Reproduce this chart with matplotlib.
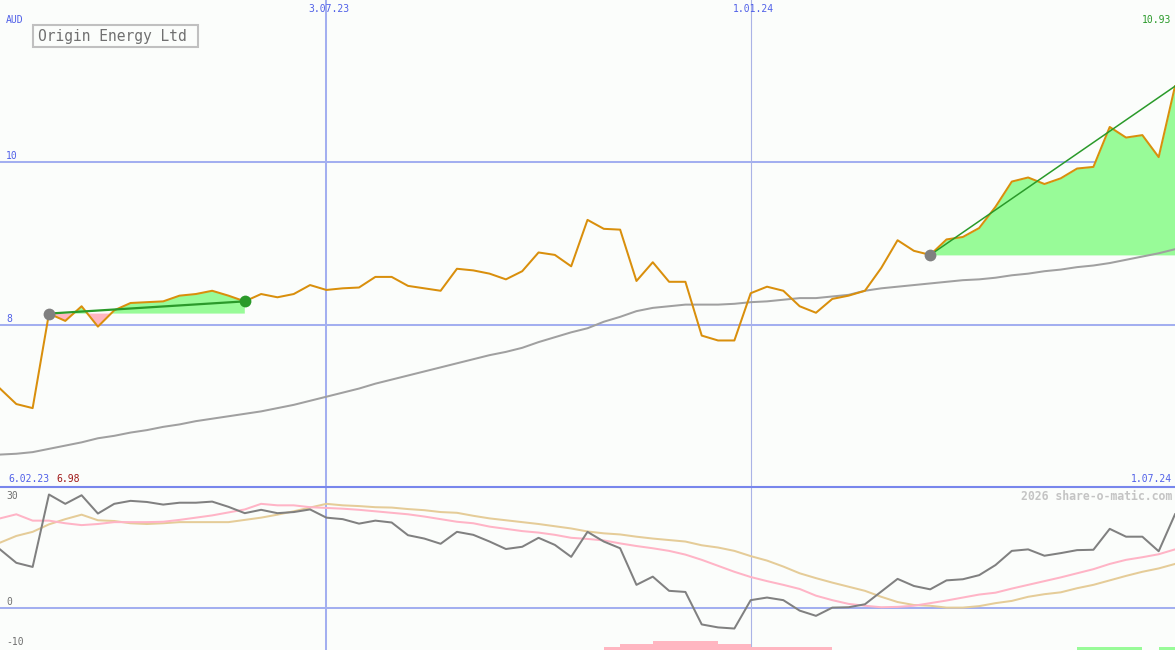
import matplotlib
matplotlib.use("Agg")
import matplotlib.pyplot as plt
import matplotlib.transforms as mtransforms
from matplotlib.patches import Rectangle
from matplotlib.lines import Line2D
import pandas as pd
import numpy as np

# ---------------- data ----------------
title = "Origin Energy Ltd"
currency = "AUD"
dates = pd.date_range("2023-02-13", "2024-07-01", freq="7D")

price = [7.22, 7.03, 6.98, 8.14, 8.05, 8.23, 7.98, 8.18, 8.27, 8.28,
         8.29, 8.36, 8.38, 8.42, 8.36, 8.29, 8.38, 8.34, 8.38, 8.49,
         8.43, 8.45, 8.46, 8.59, 8.59, 8.48, 8.45, 8.42, 8.69, 8.67,
         8.63, 8.56, 8.66, 8.89, 8.86, 8.72, 9.29, 9.18, 9.17, 8.54,
         8.77, 8.53, 8.53, 7.87, 7.81, 7.81, 8.39, 8.47, 8.42, 8.23,
         8.15, 8.32, 8.36, 8.42, 8.70, 9.04, 8.91, 8.86, 9.05, 9.08,
         9.19, 9.45, 9.76, 9.81, 9.73, 9.80, 9.92, 9.94, 10.43, 10.30,
         10.33, 10.06, 10.93]

moving_avg = [6.41, 6.42, 6.44, 6.48, 6.52, 6.56, 6.61, 6.64, 6.68, 6.71,
              6.75, 6.78, 6.82, 6.85, 6.88, 6.91, 6.94, 6.98, 7.02, 7.07,
              7.12, 7.17, 7.22, 7.28, 7.33, 7.38, 7.43, 7.48, 7.53, 7.58,
              7.63, 7.67, 7.72, 7.79, 7.85, 7.91, 7.96, 8.04, 8.10, 8.17,
              8.21, 8.23, 8.25, 8.25, 8.25, 8.26, 8.28, 8.29, 8.31, 8.33,
              8.33, 8.35, 8.37, 8.42, 8.45, 8.47, 8.49, 8.51, 8.53, 8.55,
              8.56, 8.58, 8.61, 8.63, 8.66, 8.68, 8.71, 8.73, 8.76, 8.80,
              8.84, 8.88, 8.93]

# indicator panel
osc = [15.7, 12.1, 11.0, 30.4, 27.9, 30.2, 25.3, 27.9, 28.7, 28.4,
       27.7, 28.2, 28.2, 28.5, 27.1, 25.4, 26.3, 25.4, 25.7, 26.4,
       24.2, 23.8, 22.6, 23.4, 22.9, 19.5, 18.6, 17.2, 20.4, 19.6,
       17.8, 15.8, 16.4, 18.8, 16.9, 13.7, 20.4, 17.8, 16.0, 6.2,
       8.4, 4.6, 4.3, -4.4, -5.2, -5.5, 2.1, 2.8, 2.1, -0.7,
       -2.1, 0.1, 0.2, 1.0, 4.4, 7.8, 5.9, 5.0, 7.4, 7.7,
       8.8, 11.5, 15.3, 15.7, 14.0, 14.7, 15.5, 15.6, 21.2, 19.1,
       19.1, 15.2, 25.1]

osc_fast = [24.0, 25.1, 23.4, 23.4, 22.7, 22.2, 22.5, 23.0, 23.0, 23.0,
            23.1, 23.6, 24.2, 24.8, 25.6, 26.4, 27.9, 27.5, 27.5, 27.0,
            26.8, 26.6, 26.3, 25.9, 25.5, 25.1, 24.5, 23.8, 23.1, 22.7,
            21.8, 21.2, 20.6, 20.2, 19.6, 18.8, 18.5, 18.1, 17.3, 16.6,
            16.0, 15.3, 14.3, 12.9, 11.3, 9.7, 8.3, 7.2, 6.2, 5.1,
            3.3, 2.1, 1.1, 0.6, 0.2, 0.3, 0.6, 1.3, 2.0, 2.8,
            3.6, 4.1, 5.2, 6.2, 7.2, 8.2, 9.3, 10.4, 11.8, 12.9,
            13.6, 14.4, 15.7]

osc_slow = [17.5, 19.3, 20.4, 22.4, 23.8, 25.0, 23.5, 23.3, 22.7, 22.5,
            22.7, 23.0, 23.0, 23.0, 23.0, 23.6, 24.2, 25.0, 25.9, 26.9,
            27.9, 27.5, 27.3, 27.0, 26.9, 26.5, 26.2, 25.7, 25.5, 24.7,
            24.0, 23.5, 23.0, 22.5, 21.9, 21.3, 20.5, 20.0, 19.7, 19.1,
            18.6, 18.2, 17.8, 16.8, 16.2, 15.3, 13.9, 12.7, 11.1, 9.3,
            8.0, 6.8, 5.7, 4.6, 3.0, 1.6, 0.8, 0.6, 0.1, 0.1,
            0.5, 1.3, 1.9, 3.0, 3.7, 4.2, 5.3, 6.2, 7.4, 8.6,
            9.7, 10.6, 11.8]

# signal bars at the bottom of the indicator panel (week index, height)
sell_weeks = list(range(37, 51))
sell_heights = [0.75, 1.6, 1.6, 2.4, 2.4, 2.4, 2.4, 1.6, 1.6, 0.75, 0.75, 0.75, 0.75, 0.75]
buy_weeks = [66, 67, 68, 69, 71]
buy_heights = [0.75, 0.75, 0.75, 0.75, 0.75]

# trend segments: (start index, end index)
trends = [(3, 15), (57, 72)]

vlines = ["2023-07-03", "2024-01-01"]
vline_labels = ["3.07.23", "1.01.24"]
price_ticks = [8, 10]
osc_ticks = [30, 0, -10]
start_label = "6.02.23"
end_label = "1.07.24"
min_label = "6.98"
max_label = "10.93"
credit = "2026 share-o-matic.com"

# ---------------- style ----------------
W, H = 1175, 650
BG = "#fbfdfb"
GRID = "#a3aff0"
BLUE_TXT = "#5060e8"
ORANGE = "#d98f0c"
GREEN = "#2a9a2a"
FILL_G = "#98fb98"
FILL_P = "#ffb6c1"
MONO = "DejaVu Sans Mono"

fig = plt.figure(figsize=(W / 100, H / 100), dpi=100, facecolor=BG)
split = 487
ax = fig.add_axes([0, 1 - split / H, 1, split / H], facecolor=BG)
ax2 = fig.add_axes([0, 0, 1, 1 - split / H], facecolor=BG)
for a in (ax, ax2):
    for s in a.spines.values():
        s.set_visible(False)
    a.set_xticks([])
    a.set_yticks([])
    a.set_xlim(dates[0], dates[-1])

ax.set_ylim(6.012, 11.988)
ax2.set_ylim(-11.25, 32.41)

lw = 1.45
# grid lines
for t in price_ticks:
    ax.axhline(t, color=GRID, lw=lw, zorder=1)
ax2.axhline(0, color=GRID, lw=lw, zorder=1)
vl_styles = [dict(color=GRID, lw=lw), dict(color="#aab3e6", lw=0.8)]
for d, st in zip(vlines, vl_styles):
    ax.axvline(pd.Timestamp(d), zorder=1, **st)
    ax2.axvline(pd.Timestamp(d), zorder=1, **st)

price_a = np.array(price)
# trend fills
for i0, i1 in trends:
    xs = dates[i0:i1 + 1]
    ys = price_a[i0:i1 + 1]
    base = price[i0]
    ax.fill_between(xs, base, ys, where=ys >= base, interpolate=True,
                    color=FILL_G, lw=0, zorder=2)
    ax.fill_between(xs, base, ys, where=ys < base, interpolate=True,
                    color=FILL_P, lw=0, zorder=2)

ax.plot(dates, moving_avg, color="#a0a0a0", lw=lw, zorder=3)
ax.plot(dates, price, color=ORANGE, lw=lw, zorder=4)

for n, (i0, i1) in enumerate(trends):
    ax.plot([dates[i0], dates[i1]], [price[i0], price[i1]], color=GREEN,
            lw=1.6 if n == 0 else 1.1, zorder=5)
    ax.plot(dates[i0], price[i0], "o", color="#808080", ms=8.5, mec="none", zorder=6)
    if n == 0:
        ax.plot(dates[i1], price[i1], "o", color=GREEN, ms=8.5, mec="none", zorder=6)

# indicator panel
ax2.plot(dates, osc_slow, color="#e5cc98", lw=lw, zorder=3)
ax2.plot(dates, osc_fast, color="#ffb4c6", lw=lw, zorder=3)
ax2.plot(dates, osc, color="#808080", lw=lw, zorder=4)
ymin = ax2.get_ylim()[0]
ax2.bar([dates[i] for i in sell_weeks], sell_heights, width=7, bottom=ymin,
        align="edge", color=FILL_P, lw=0, zorder=2)
ax2.bar([dates[i] for i in buy_weeks], buy_heights, width=7, bottom=ymin,
        align="edge", color=FILL_G, lw=0, zorder=2)

# separator line
fig.add_artist(Line2D([0, 1], [1 - split / H] * 2, color="#7886ec", lw=1.5,
                      transform=fig.transFigure, zorder=10))


def fx(x):
    return x / W


def fy(y):
    return 1 - y / H


fs = 7
# top date labels
tr = mtransforms.blended_transform_factory(ax.transData, fig.transFigure)
for d, lab in zip(vlines, vline_labels):
    ax.text(pd.Timestamp(d) + pd.Timedelta(days=1), fy(9), lab, transform=tr,
            ha="center", va="center", color=BLUE_TXT, fontsize=fs, family=MONO)

fig.text(fx(6), fy(20), currency, color=BLUE_TXT, fontsize=fs, family=MONO, va="center")
trp = mtransforms.blended_transform_factory(fig.transFigure, ax.transData)
for t in price_ticks:
    ax.text(fx(6), t + 0.075, f"{t}", transform=trp, color=BLUE_TXT, fontsize=fs,
            family=MONO, va="center")
tro = mtransforms.blended_transform_factory(fig.transFigure, ax2.transData)
label_shift = {30: 0.0, 0: 1.6, -10: 0.9}
for t in osc_ticks:
    ax2.text(fx(6), t + label_shift[t], f"{t}", transform=tro, color="#707070",
             fontsize=fs, family=MONO, va="center")

fig.text(fx(1171), fy(20), max_label, color=GREEN, fontsize=fs, family=MONO,
         ha="right", va="center")
fig.text(fx(8), fy(479), start_label, color=BLUE_TXT, fontsize=fs, family=MONO, va="center")
fig.text(fx(56), fy(479), min_label, color="#a01818", fontsize=fs, family=MONO, va="center")
fig.text(fx(1172), fy(479), end_label, color=BLUE_TXT, fontsize=fs, family=MONO,
         ha="right", va="center")
fig.text(fx(1172), fy(496), credit, color="#c4c4c4", fontsize=8.3, family=MONO,
         ha="right", va="center", fontweight="bold")

# title box
fig.add_artist(Rectangle((fx(33), fy(47)), fx(165), 22 / H, transform=fig.transFigure,
                         facecolor=BG, edgecolor="#c0c0c0", lw=1.5, zorder=11))
fig.text(fx(38), fy(36), title, color="#707070", fontsize=10.5, family=MONO,
         va="center", zorder=12)

fig.savefig("out.png", dpi=100, facecolor=BG)
